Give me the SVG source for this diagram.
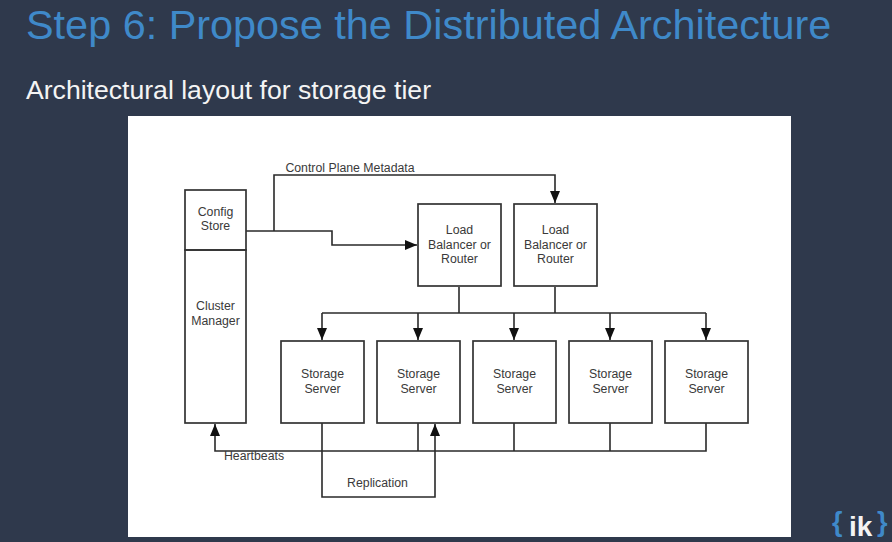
<svg xmlns="http://www.w3.org/2000/svg" width="892" height="542" viewBox="0 0 892 542">
<style>
text{font-family:"Liberation Sans",Arial,sans-serif}
.n{font-size:12.3px;fill:#3a3a3a;text-anchor:middle}
.b{fill:none;stroke:#333;stroke-width:1.7}
.c{fill:none;stroke:#2a2a2a;stroke-width:1.6}
</style>
<defs>
<marker id="a" markerUnits="userSpaceOnUse" markerWidth="13" markerHeight="12" refX="12" refY="5" orient="auto"><path d="M0 0L12 5L0 10Z" fill="#111"/></marker>
</defs>
<rect width="892" height="542" fill="#2f394c"/>
<text x="26" y="39" font-size="41.4px" fill="#3f89c9">Step 6: Propose the Distributed Architecture</text>
<text x="26" y="99" font-size="26.6px" fill="#f4f4f4">Architectural layout for storage tier</text>
<rect x="128" y="116" width="663" height="421" fill="#fff"/>
<g id="connectors">
<path class="c" d="M246 231H332V245H417" marker-end="url(#a)"/>
<path class="c" d="M274 231V175H555V203" marker-end="url(#a)"/>
<path class="c" d="M459 287V313"/>
<path class="c" d="M555 287V313"/>
<path class="c" d="M322 313H706"/>
<path class="c" d="M322 313V340" marker-end="url(#a)"/>
<path class="c" d="M418 313V340" marker-end="url(#a)"/>
<path class="c" d="M514 313V340" marker-end="url(#a)"/>
<path class="c" d="M610 313V340" marker-end="url(#a)"/>
<path class="c" d="M706 313V340" marker-end="url(#a)"/>
<path class="c" d="M706 423V451H215V424" marker-end="url(#a)"/>
<path class="c" d="M418 423V451"/>
<path class="c" d="M514 423V451"/>
<path class="c" d="M610 423V451"/>
<path class="c" d="M322 423V497H435V424" marker-end="url(#a)"/>
</g>
<g id="config-store"><rect class="b" x="185" y="190" width="61" height="60"/><text class="n" x="215.500" y="216">Config</text><text class="n" x="215.500" y="230">Store</text></g>
<g id="cluster-manager"><rect class="b" x="185" y="250" width="61" height="173"/><text class="n" x="215.500" y="310">Cluster</text><text class="n" x="215.500" y="325">Manager</text></g>
<g id="lb-1"><rect class="b" x="418" y="204" width="83" height="82"/><text class="n" x="459.500" y="234">Load</text><text class="n" x="459.500" y="249">Balancer or</text><text class="n" x="459.500" y="263">Router</text></g>
<g id="lb-2"><rect class="b" x="514" y="204" width="83" height="82"/><text class="n" x="555.500" y="234">Load</text><text class="n" x="555.500" y="249">Balancer or</text><text class="n" x="555.500" y="263">Router</text></g>
<g id="storage-1"><rect class="b" x="281" y="341" width="83" height="82"/><text class="n" x="322.500" y="378">Storage</text><text class="n" x="322.500" y="393">Server</text></g>
<g id="storage-2"><rect class="b" x="377" y="341" width="83" height="82"/><text class="n" x="418.500" y="378">Storage</text><text class="n" x="418.500" y="393">Server</text></g>
<g id="storage-3"><rect class="b" x="473" y="341" width="83" height="82"/><text class="n" x="514.500" y="378">Storage</text><text class="n" x="514.500" y="393">Server</text></g>
<g id="storage-4"><rect class="b" x="569" y="341" width="83" height="82"/><text class="n" x="610.500" y="378">Storage</text><text class="n" x="610.500" y="393">Server</text></g>
<g id="storage-5"><rect class="b" x="665" y="341" width="83" height="82"/><text class="n" x="706.500" y="378">Storage</text><text class="n" x="706.500" y="393">Server</text></g>
<text class="n" x="350" y="172">Control Plane Metadata</text>
<text class="n" x="254" y="460">Heartbeats</text>
<text class="n" x="377.500" y="487">Replication</text>
<g id="logo">
<text x="832" y="531" font-size="27px" font-weight="bold" fill="#3f89c9">{</text>
<text x="849" y="536" font-size="28px" font-weight="bold" fill="#f4f4f4">ik</text>
<text x="877" y="531" font-size="27px" font-weight="bold" fill="#3f89c9">}</text>
</g>
</svg>
